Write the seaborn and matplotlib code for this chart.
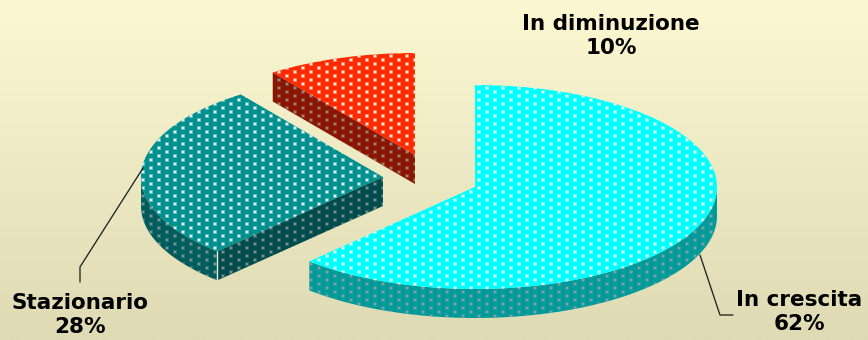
import numpy as np
import matplotlib
matplotlib.use("Agg")
import matplotlib.pyplot as plt
from matplotlib.colors import LinearSegmentedColormap
import seaborn as sns

categories = ["In crescita", "Stazionario", "In diminuzione"]
shares = [62, 28, 10]
top_colors = ["#00FFFF", "#009090", "#FF2A00"]
arc_wall_colors = ["#009A9A", "#005C5C", "#8A1500"]
edge_wall_colors = ["#009A9A", "#004C4C", "#8A1500"]

W, H, DPI = 868, 340, 100
CX, CY, RX, RY = 475.0, 187.0, 242.0, 102.0
DEPTH = 29.0 / RY

sns.set_theme(style="white")
plt.rcParams["font.family"] = ["DejaVu Sans"]

fig = plt.figure(figsize=(W / DPI, H / DPI), dpi=DPI)
ax = fig.add_axes([0, 0, 1, 1])

def ux(px):
    return (px - CX) / RX

def uy(py):
    return (CY - py) / RY

wedges, _ = ax.pie(shares, colors=sns.color_palette(top_colors), startangle=90,
                   counterclock=False, radius=1.0, frame=True,
                   wedgeprops=dict(linewidth=0, zorder=5))
ax.set_aspect("auto")
ax.set_xticks([])
ax.set_yticks([])
for s in ax.spines.values():
    s.set_visible(False)

# background gradient
cmap = LinearSegmentedColormap.from_list("bg", ["#FBF8D2", "#DEDAB4"])
ax.imshow(np.linspace(0, 1, 256).reshape(-1, 1), cmap=cmap, aspect="auto", zorder=0,
          extent=(ux(0), ux(W), uy(H), uy(0)), interpolation="bilinear")

apexes = [(475, 187), (383, 177), (415, 155)]
for w, apex in zip(wedges, apexes):
    w.set_center((ux(apex[0]), uy(apex[1])))

# diamond lattice of the dotted fill texture
col_px, row_px = np.meshgrid(np.arange(7, W, 8), np.arange(0.3, H, 4))
odd = (((col_px - 7) / 8).round().astype(int) + ((row_px - 0.3) / 4).round().astype(int)) % 2 == 0
tex_x = ux(col_px[odd])
tex_y = uy(row_px[odd])

def dots(patch, color, z, strength=1.0):
    for size, alpha in ((5.5, 0.4), (2.2, 0.85)):
        sc = ax.scatter(tex_x, tex_y, s=size, marker="s", color=color, alpha=alpha * strength,
                        linewidths=0, zorder=z)
        sc.set_clip_path(patch)

def wall(points, color, z):
    pts = np.asarray(points)
    lower = pts - [0, DEPTH]
    poly = np.vstack([pts, lower[::-1]])
    patch = ax.fill(poly[:, 0], poly[:, 1], facecolor=color, linewidth=0, zorder=z)[0]
    dots(patch, "#A4A8A6", z + 0.1, 0.75)

def arc(center, a0, a1, n=80):
    t = np.radians(np.linspace(a0, a1, n))
    return np.column_stack([center[0] + np.cos(t), center[1] + np.sin(t)])

def rim(center, angle):
    return center + [np.cos(np.radians(angle)), np.sin(np.radians(angle))]

# wedge order is clockwise from the top, so theta2 is the leading edge of each slice
cyan, teal, red = wedges
for w in wedges:
    dots(w, "#FFFFFF", 5.5)

c = np.array(cyan.center)
wall(arc(c, cyan.theta1, 0), arc_wall_colors[0], 3)

c = np.array(teal.center)
wall(arc(c, -180, teal.theta2), arc_wall_colors[1], 3)
end = rim(c, teal.theta2)
wall([end, c], edge_wall_colors[1], 3)
ax.plot([end[0], end[0]], [end[1], end[1] - DEPTH], color="#E8E8D8", lw=1.0, zorder=4)

c = np.array(red.center)
wall([rim(c, red.theta2), c], edge_wall_colors[2], 3)

# leader lines
leaders = [[(700, 255), (720, 315), (733, 315)], [(143, 168), (80, 267), (80, 282)]]
for pts in leaders:
    ax.plot([ux(p[0]) for p in pts], [uy(p[1]) for p in pts], color="#222222", lw=0.95, zorder=6)

labels = [(799, 312), (80, 315), (611, 36)]
for cat, share, (px, py) in zip(categories, shares, labels):
    ax.text(ux(px), uy(py), f"{cat}\n{share}%", ha="center", va="center", fontsize=15.5,
            fontweight="bold", color="black", linespacing=1.25, zorder=7)

ax.set_xlim(ux(0), ux(W))
ax.set_ylim(uy(H), uy(0))

fig.savefig("out.png", dpi=DPI)
